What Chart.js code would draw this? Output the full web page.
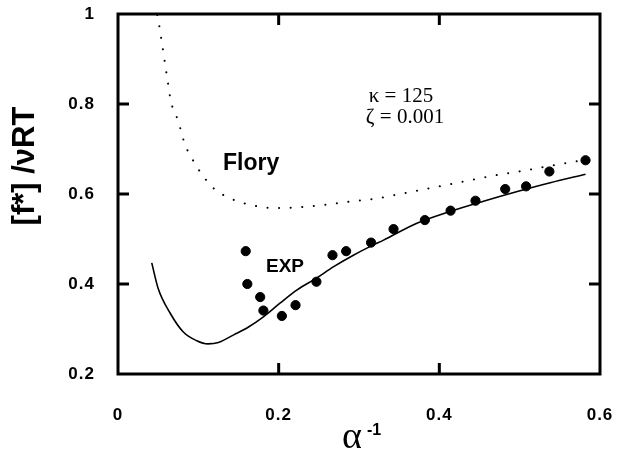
<!DOCTYPE html>
<html>
<head>
<meta charset="utf-8">
<style>
  html, body { margin: 0; padding: 0; background: #fff; }
  #wrap { width: 618px; height: 457px; }
</style>
<script src="https://cdn.jsdelivr.net/npm/chart.js@4.4.1/dist/chart.umd.min.js"></script>
</head>
<body>
<div id="wrap"><canvas id="c" width="618" height="457"></canvas></div>
<script>
// ---- data ----
const xTicks = [0, 0.2, 0.4, 0.6];
const yTicks = [0.2, 0.4, 0.6, 0.8, 1];

const expX = [0.159, 0.161, 0.177, 0.181, 0.204, 0.221, 0.247, 0.267, 0.284, 0.315, 0.343, 0.382, 0.414, 0.445, 0.482, 0.508, 0.537, 0.582];
const expY = [0.473, 0.400, 0.371, 0.341, 0.329, 0.353, 0.405, 0.464, 0.473, 0.492, 0.522, 0.542, 0.563, 0.585, 0.611, 0.617, 0.650, 0.675];

const theoryX = [0.042, 0.050, 0.065, 0.081, 0.098, 0.112, 0.125, 0.144, 0.162, 0.181, 0.202, 0.223, 0.247, 0.268, 0.293, 0.318, 0.330, 0.372, 0.413, 0.455, 0.496, 0.538, 0.582];
const theoryY = [0.447, 0.390, 0.335, 0.294, 0.274, 0.267, 0.270, 0.287, 0.304, 0.327, 0.358, 0.387, 0.413, 0.438, 0.464, 0.487, 0.497, 0.535, 0.561, 0.584, 0.605, 0.625, 0.644];

const floryX = [0.049, 0.051, 0.056, 0.061, 0.066, 0.075, 0.083, 0.095, 0.108, 0.120, 0.133, 0.147, 0.162, 0.176, 0.191, 0.205, 0.234, 0.262, 0.293, 0.322, 0.351, 0.409, 0.465, 0.509, 0.555, 0.582];
const floryY = [0.998, 0.978, 0.920, 0.861, 0.805, 0.762, 0.712, 0.670, 0.635, 0.611, 0.596, 0.585, 0.577, 0.572, 0.569, 0.569, 0.572, 0.577, 0.584, 0.590, 0.600, 0.620, 0.640, 0.653, 0.668, 0.676];

const annoParams = ['\u03BA = 125', '\u03B6 = 0.001'];
const labelFlory = 'Flory';
const labelExp = 'EXP';
const yTitle = '[f*] /\u03BDRT';
const xTitleMain = '\u03B1';
const xTitleSup = '-1';

const toPts = (xs, ys) => xs.map((x, i) => ({ x: x, y: ys[i] }));

function drawFrame(chart) {
  const { ctx, scales } = chart;
  const xs = scales.x, ys = scales.y;
  const L = xs.getPixelForValue(xs.min), R = xs.getPixelForValue(xs.max);
  const T = ys.getPixelForValue(ys.max), B = ys.getPixelForValue(ys.min);
  ctx.save();
  ctx.setLineDash([]);
  ctx.strokeStyle = '#000';
  ctx.lineWidth = 3;
  ctx.beginPath();
  ctx.rect(L, T, R - L, B - T);
  const tl = 11;
  xTicks.forEach(v => {
    const p = xs.getPixelForValue(v);
    ctx.moveTo(p, B); ctx.lineTo(p, B - tl);
    ctx.moveTo(p, T); ctx.lineTo(p, T + tl);
  });
  yTicks.forEach(v => {
    const p = ys.getPixelForValue(v);
    ctx.moveTo(L, p); ctx.lineTo(L + tl, p);
    ctx.moveTo(R, p); ctx.lineTo(R - tl, p);
  });
  ctx.stroke();
  ctx.restore();
}

const framePlugin = {
  id: 'frame',
  beforeDraw(chart) {
    chart.ctx.letterSpacing = '0px';
    drawFrame(chart);
    chart.ctx.letterSpacing = '1px';
  },
  beforeDatasetsDraw(chart) { chart.ctx.letterSpacing = '0px'; },
  afterDatasetsDraw(chart) { chart.ctx.letterSpacing = '4.5px'; },
  afterDraw(chart) {
    const ctx = chart.ctx;
    ctx.letterSpacing = '0px';
    ctx.save();
    ctx.fillStyle = '#000';
    ctx.font = '21px "Liberation Serif", "Times New Roman", serif';
    ctx.textAlign = 'center';
    ctx.textBaseline = 'alphabetic';
    ctx.fillText(annoParams[0], 401, 102);
    ctx.fillText(annoParams[1], 405, 123);

    ctx.font = 'bold 23px "Liberation Sans", Arial, sans-serif';
    ctx.textAlign = 'left';
    ctx.fillText(labelFlory, 223, 170);
    ctx.font = 'bold 19px "Liberation Sans", Arial, sans-serif';
    ctx.fillText(labelExp, 266, 272);

    ctx.save();
    ctx.translate(34, 166);
    ctx.rotate(-Math.PI / 2);
    ctx.font = 'bold 31px "Liberation Sans", Arial, sans-serif';
    ctx.textAlign = 'center';
    ctx.fillText(yTitle, 0, 0);
    ctx.restore();

    ctx.font = '38px "Liberation Serif", "Times New Roman", serif';
    ctx.textAlign = 'left';
    ctx.fillText(xTitleMain, 342, 448);
    ctx.font = 'bold 16px "Liberation Sans", Arial, sans-serif';
    ctx.fillText(xTitleSup, 367, 435);
    ctx.restore();
  }
};

const tickFont = { family: '"Liberation Sans", Arial, sans-serif', size: 17, weight: 'bold' };
const zeroPad = s => { s.paddingLeft = 0; s.paddingRight = 0; s.paddingTop = 0; s.paddingBottom = 0; };

new Chart(document.getElementById('c'), {
  type: 'scatter',
  data: {
    datasets: [
      {
        label: 'Flory',
        type: 'line',
        data: toPts(floryX, floryY),
        borderColor: '#000',
        borderWidth: 2,
        borderDash: [0.1, 11.5],
        borderCapStyle: 'round',
        pointRadius: 0,
        cubicInterpolationMode: 'monotone',
        fill: false
      },
      {
        label: 'Theory',
        type: 'line',
        data: toPts(theoryX, theoryY),
        borderColor: '#000',
        borderWidth: 1.6,
        pointRadius: 0,
        cubicInterpolationMode: 'monotone',
        fill: false
      },
      {
        label: 'EXP',
        data: toPts(expX, expY),
        backgroundColor: '#000',
        borderColor: '#000',
        pointRadius: 4.6,
        pointHoverRadius: 4.6
      }
    ]
  },
  options: {
    responsive: false,
    animation: false,
    events: [],
    layout: { padding: { left: 0, right: 18, top: 14, bottom: 0 } },
    plugins: { legend: { display: false }, tooltip: { enabled: false } },
    scales: {
      x: {
        type: 'linear',
        min: 0, max: 0.6,
        z: 1,
        grid: { display: false, drawTicks: false },
        border: { display: false },
        afterBuildTicks: s => { s.ticks = xTicks.map(v => ({ value: v })); },
        afterFit: s => { s.height = 83; zeroPad(s); },
        ticks: { color: '#000', font: tickFont, padding: 31, maxRotation: 0, callback: v => String(v) }
      },
      y: {
        type: 'linear',
        min: 0.2, max: 1,
        grid: { display: false, drawTicks: false },
        border: { display: false },
        afterBuildTicks: s => { s.ticks = yTicks.map(v => ({ value: v })); },
        afterFit: s => { s.width = 118; zeroPad(s); },
        ticks: { color: '#000', font: tickFont, padding: 23, callback: v => String(v) }
      }
    }
  },
  plugins: [framePlugin]
});
</script>
</body>
</html>
